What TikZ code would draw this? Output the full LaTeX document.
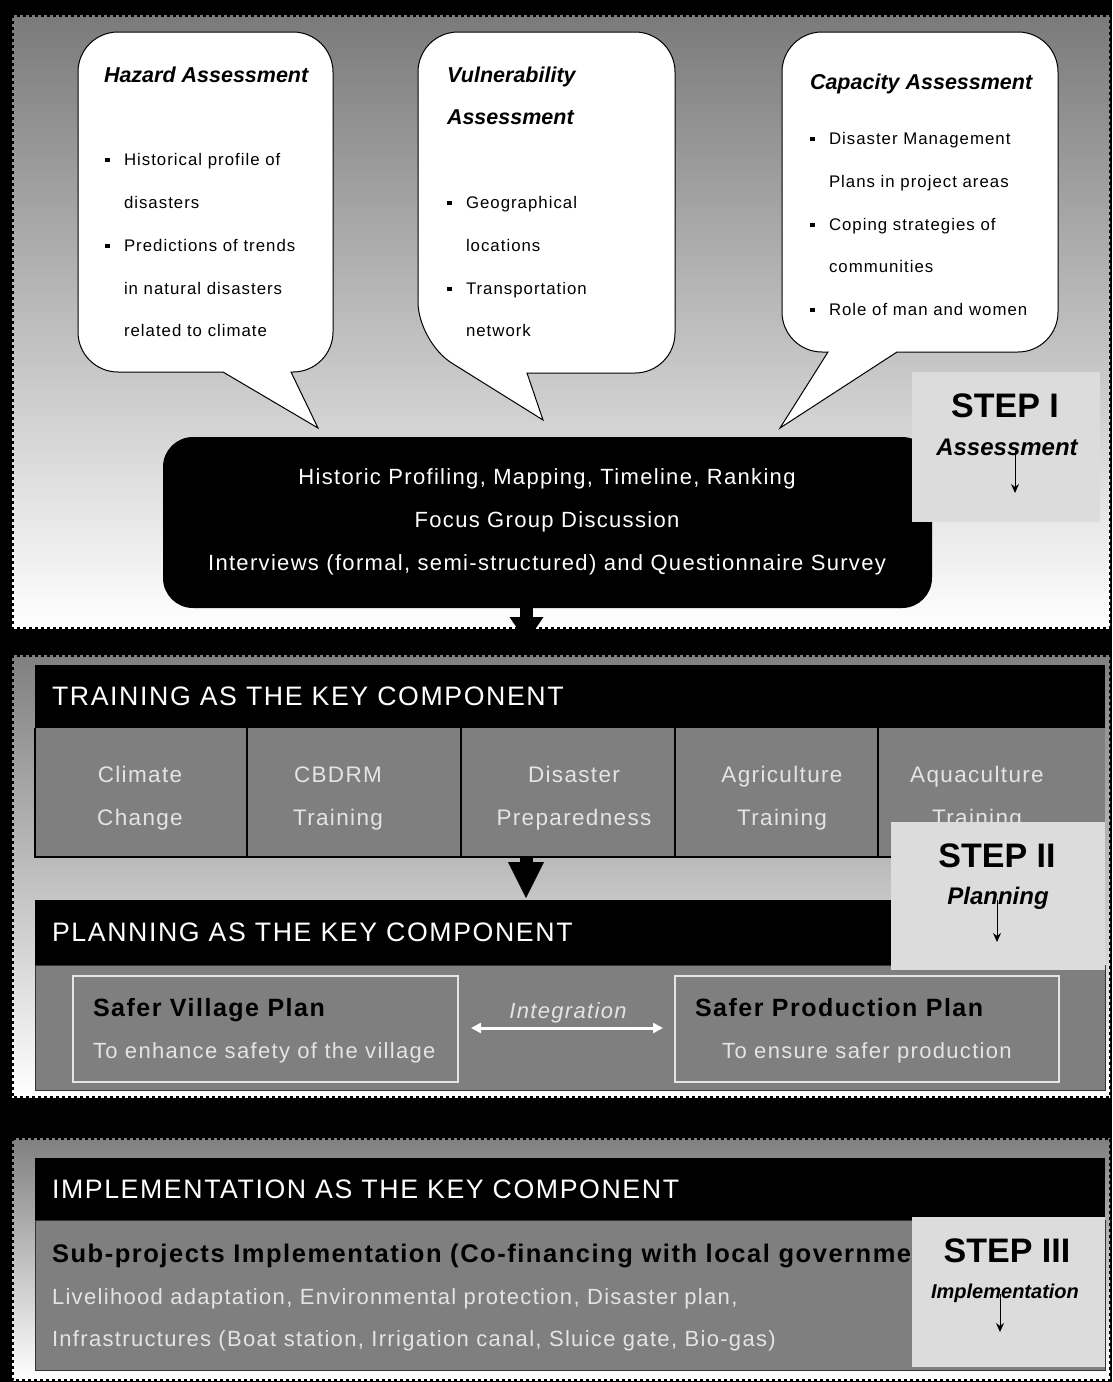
\documentclass[tikz,border=0pt]{standalone}
\usepackage{fontspec}
\setmainfont{Liberation Sans}
\newfontfamily\lsp[LetterSpace=6]{Liberation Sans}
\usetikzlibrary{arrows.meta}
\definecolor{boxgray}{HTML}{7F7F7F}
\definecolor{lighttxt}{HTML}{E4E4E4}
\definecolor{stepgray}{HTML}{DCDCDC}
\newcommand{\bsq}{\rule[3pt]{4.5pt}{4.5pt}}
\begin{document}
\begin{tikzpicture}[x=1pt,y=-1pt,
  every node/.style={inner sep=0pt, outer sep=0pt},
  bub/.style={font=\lsp\fontsize{16.8}{20}\selectfont, anchor=base west},
  bubhead/.style={font=\bfseries\itshape\fontsize{21.5}{24}\selectfont, anchor=base west},
  blk/.style={font=\lsp\fontsize{22}{26}\selectfont, text=white, anchor=base},
  hdr/.style={font=\lsp\fontsize{26.7}{30}\selectfont, text=white, anchor=base west},
  cell/.style={font=\lsp\fontsize{22.5}{26}\selectfont, text=lighttxt, anchor=base},
  plhead/.style={font=\lsp\bfseries\fontsize{25}{30}\selectfont, text=black, anchor=base west},
  light/.style={font=\lsp\fontsize{22}{26}\selectfont, text=lighttxt},
  steptitle/.style={font=\bfseries\fontsize{34}{38}\selectfont, anchor=base},
  stepsub/.style={font=\bfseries\itshape\fontsize{24}{28}\selectfont, anchor=base},
  steparrow/.style={-{Stealth[length=9pt,width=8pt]}, line width=1pt},
  secbord/.style={draw=black, line width=3pt, dash pattern=on 3pt off 3pt},
  bubble/.style={fill=white, draw=black, line width=1pt},
  stepbox/.style={fill=stepgray},
  hdrbox/.style={fill=black},
  graybox/.style={fill=boxgray, draw=black!80, line width=0.8pt},
  blockarrow/.style={fill=black},
]
\useasboundingbox (0,0) rectangle (1112,1382);
\fill[black] (0,0) rectangle (1112,1382);

% ---------------- Section 1 ----------------
\shade[top color=black!52, bottom color=white] (12,15) rectangle (1110,628);
\draw[secbord] (12,15) rectangle (1110,628);

% bubbles
\draw[bubble] (291,372) [rounded corners=40pt] -- (333,372) -- (333,32) -- (78,32) -- (78,372) [sharp corners] -- (223,372) -- (318,428) -- cycle;
\draw[bubble] (527,373) [rounded corners=40pt] -- (675,373) -- (675,32) -- (418,32) -- (418,342) [sharp corners] -- (543,420) -- cycle;
\draw[bubble] (897,352) [rounded corners=40pt] -- (1058,352) -- (1058,32) -- (782,32) -- (782,352) [sharp corners] -- (828,352) -- (780,428) -- cycle;

% bubble 1 text
\node[bubhead] (h1) at (104,82) {Hazard Assessment};
\node[bub] (h1a) at (105,165) {\makebox[19pt][l]{\bsq}Historical profile of};
\node[bub] (h1b) at (124,208) {disasters};
\node[bub] (h1c) at (105,251) {\makebox[19pt][l]{\bsq}Predictions of trends};
\node[bub] (h1d) at (124,294) {in natural disasters};
\node[bub] (h1e) at (124,336) {related to climate};
% bubble 2 text
\node[bubhead] (v1) at (447,82) {Vulnerability};
\node[bubhead] (v2) at (447,124) {Assessment};
\node[bub] (v1a) at (447,208) {\makebox[19pt][l]{\bsq}Geographical};
\node[bub] (v1b) at (466,251) {locations};
\node[bub] (v1c) at (447,294) {\makebox[19pt][l]{\bsq}Transportation};
\node[bub] (v1d) at (466,336) {network};
% bubble 3 text
\node[bubhead] (c1) at (810,89) {Capacity Assessment};
\node[bub] (c1a) at (810,144) {\makebox[19pt][l]{\bsq}Disaster Management};
\node[bub] (c1b) at (829,187) {Plans in project areas};
\node[bub] (c1c) at (810,230) {\makebox[19pt][l]{\bsq}Coping strategies of};
\node[bub] (c1d) at (829,272) {communities};
\node[bub] (c1e) at (810,315) {\makebox[19pt][l]{\bsq}Role of man and women};

% methods box
\node[fill=black, rounded corners=30pt, minimum width=769pt, minimum height=171pt] (methods) at (547.5,522.5) {};
\node[blk] (m1) at (547,484) {Historic Profiling, Mapping, Timeline, Ranking};
\node[blk] (m2) at (547,527) {Focus Group Discussion};
\node[blk] (m3) at (547,570) {Interviews (formal, semi-structured) and Questionnaire Survey};
\coordinate (a1) at (526.5,606);
\fill[blockarrow] ([xshift=-6.5pt]a1) rectangle ([xshift=6.5pt,yshift=-12pt]a1);
\fill[blockarrow] ([xshift=-17pt,yshift=-11pt]a1) -- ([xshift=17pt,yshift=-11pt]a1) -- ([yshift=-36pt]a1) -- cycle;

% step I
\fill[stepbox] (912,372) rectangle (1100,522);
\node[steptitle] (s1t) at (1005,417) {STEP I};
\node[stepsub] (s1s) at (1007,455) {Assessment};
\coordinate (s1a) at (1015,451);
\coordinate (s1b) at (1015,493);
\draw[steparrow] (s1a) -- (s1b);

% ---------------- Section 2 ----------------
\shade[top color=black!50, bottom color=white] (12,655) rectangle (1110,1097);
\draw[secbord] (12,655) rectangle (1110,1097);

\fill[hdrbox] (35,665) rectangle (1105,728);
\node[hdr] (th) at (52,705) {TRAINING AS THE KEY COMPONENT};
\fill[fill=boxgray] (35,728) rectangle (1105,857);
\draw[black, line width=1.2pt] (35,728) -- (35,857) -- (1105,857);
\foreach \xx in {247,461,675,878} \draw[black, line width=1.2pt] (\xx,728) -- (\xx,857);
\node[cell] (t1a) at (140,782) {Climate};
\node[cell] (t1b) at (140,825) {Change};
\node[cell] (t2a) at (338,782) {CBDRM};
\node[cell] (t2b) at (338,825) {Training};
\node[cell] (t3a) at (574,782) {Disaster};
\node[cell] (t3b) at (574,825) {Preparedness};
\node[cell] (t4a) at (782,782) {Agriculture};
\node[cell] (t4b) at (782,825) {Training};
\node[cell] (t5a) at (977,782) {Aquaculture};
\node[cell] (t5b) at (977,825) {Training};

\coordinate (a2) at (526,857);
\fill[blockarrow] ([xshift=-6.5pt]a2) rectangle ([xshift=6.5pt,yshift=-8pt]a2);
\fill[blockarrow] ([xshift=-18pt,yshift=-5pt]a2) -- ([xshift=18pt,yshift=-5pt]a2) -- ([yshift=-41pt]a2) -- cycle;

\fill[hdrbox] (35,900) rectangle (1105,965);
\node[hdr] (ph) at (52,941) {PLANNING AS THE KEY COMPONENT};
\draw[graybox] (35,965) rectangle (1105,1090);
\draw[white!90!black, line width=1.5pt] (73,976) rectangle (458,1082);
\draw[white!90!black, line width=1.5pt] (675,976) rectangle (1059,1082);
\node[plhead] (p1) at (93,1016) {Safer Village Plan};
\node[light, anchor=base west] (p1s) at (93,1058) {To enhance safety of the village};
\node[plhead] (p2) at (695,1016) {Safer Production Plan};
\node[light, anchor=base] (p2s) at (867,1058) {To ensure safer production};
\node[light, anchor=base, font=\lsp\itshape\fontsize{22}{26}\selectfont] (integ) at (568,1018) {Integration};
\coordinate (i1) at (471,1028);
\coordinate (i2) at (663,1028);
\draw[white, line width=3pt, {Triangle[length=10pt,width=10pt]}-{Triangle[length=10pt,width=10pt]}] (i1) -- (i2);

% step II
\fill[stepbox] (891,822) rectangle (1105,970);
\node[steptitle] (s2t) at (997,867) {STEP II};
\node[stepsub] (s2s) at (998,904) {Planning};
\coordinate (s2a) at (997,900);
\coordinate (s2b) at (997,942);
\draw[steparrow] (s2a) -- (s2b);

% ---------------- Section 3 ----------------
\shade[top color=black!50, bottom color=white] (12,1138) rectangle (1110,1380);
\draw[secbord] (12,1138) rectangle (1110,1380);

\fill[hdrbox] (35,1158) rectangle (1105,1220);
\node[hdr] (ih) at (52,1198) {IMPLEMENTATION AS THE KEY COMPONENT};
\draw[graybox] (35,1220) rectangle (1105,1370);
\node[plhead, font=\lsp\bfseries\fontsize{25.5}{30}\selectfont] (sp) at (52,1262) {Sub-projects Implementation (Co-financing with local governme};
\node[light, anchor=base west] (l1) at (52,1304) {Livelihood adaptation, Environmental protection, Disaster plan,};
\node[light, anchor=base west] (l2) at (52,1346) {Infrastructures (Boat station, Irrigation canal, Sluice gate, Bio-gas)};

% step III
\fill[stepbox] (912,1217) rectangle (1105,1367);
\node[steptitle] (s3t) at (1007,1262) {STEP III};
\node[stepsub, font=\bfseries\itshape\fontsize{20}{24}\selectfont] (s3s) at (1005,1298) {Implementation};
\coordinate (s3a) at (1000,1294);
\coordinate (s3b) at (1000,1332);
\draw[steparrow] (s3a) -- (s3b);
\end{tikzpicture}
\end{document}
